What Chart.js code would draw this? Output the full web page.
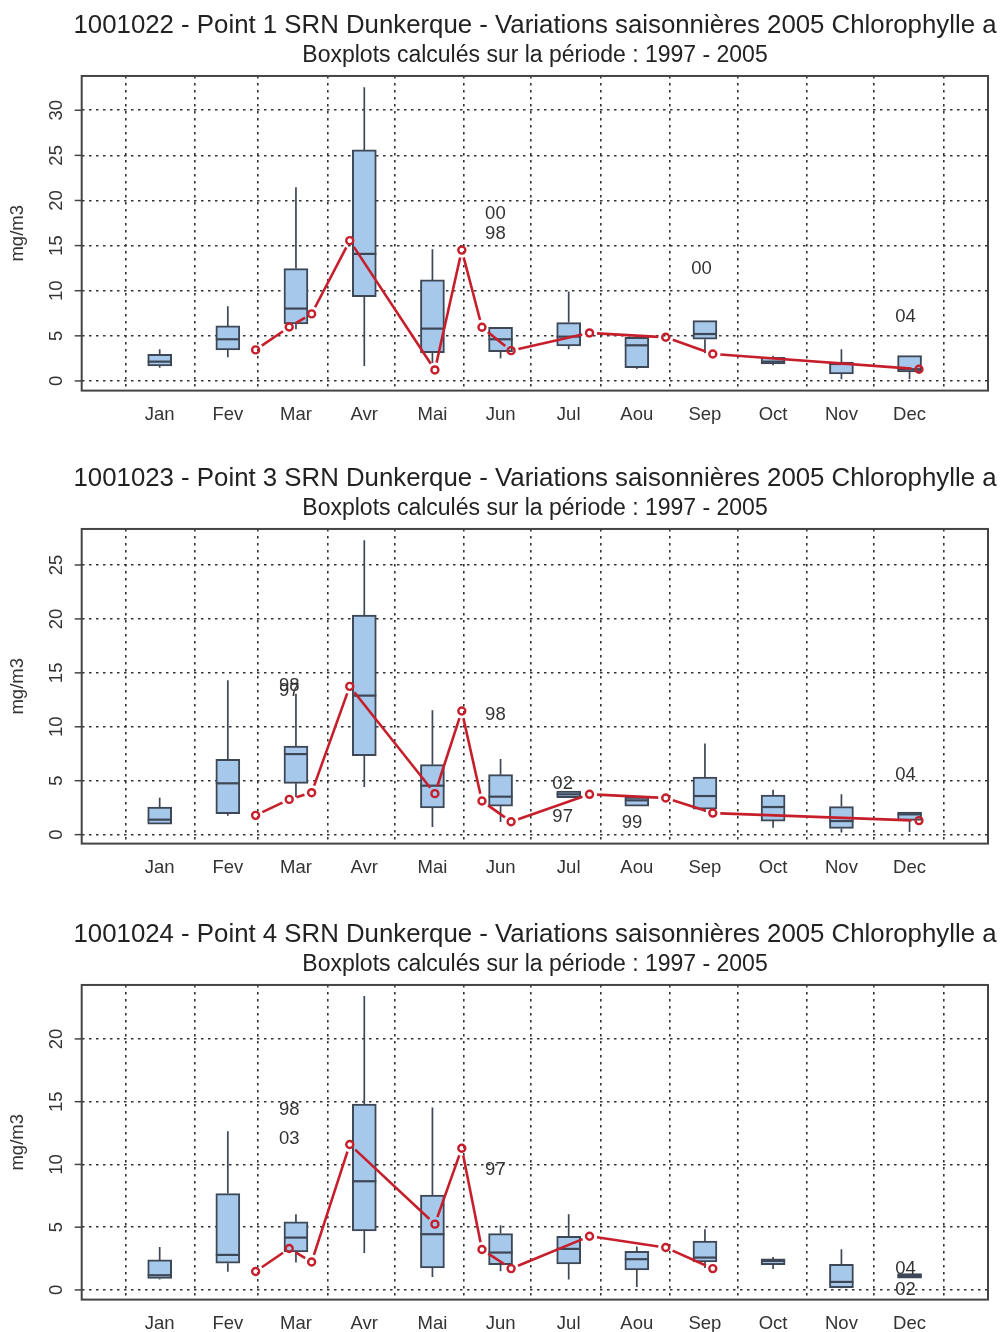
<!DOCTYPE html>
<html>
<head>
<meta charset="utf-8">
<script src="https://cdn.jsdelivr.net/npm/chart.js@4.4.1/dist/chart.umd.min.js"></script>
<style>
  body { margin: 0; background: #fff; }
  canvas { position: absolute; left: 0; }
</style>
</head>
<body>
<canvas id="c1" width="1002" height="453" style="top:0px"></canvas>
<canvas id="c2" width="1002" height="456" style="top:453px"></canvas>
<canvas id="c3" width="1002" height="423" style="top:909px"></canvas>
<script>
const FONT = '"Liberation Sans", Arial, Helvetica, sans-serif';
const BOX_FILL = '#A6C8EA';
const BOX_EDGE = '#3D4756';
const RED = '#C61F2B';
const INK = '#333';

/* ============ shared axes ============ */
const monthLabels = ["Jan", "Fev", "Mar", "Avr", "Mai", "Jun", "Jul", "Aou", "Sep", "Oct", "Nov", "Dec"];
const boxDays = [15.2, 45.6, 76.0, 106.5, 136.9, 167.3, 197.7, 228.1, 258.5, 288.9, 319.4, 349.8];
const monthStarts = [0, 31, 59, 90, 120, 151, 181, 212, 243, 273, 304, 334, 365];
const sampleDays = [58, 73, 83, 100, 138, 150, 159, 172, 207, 241, 262, 354];
const subtitle = "Boxplots calculés sur la période : 1997 - 2005";

/* ============ Point 1 ============ */
const title1 = "1001022 - Point 1 SRN Dunkerque - Variations saisonnières 2005 Chlorophylle a";
const yTicks1 = [0, 5, 10, 15, 20, 25, 30];
const lo1  = [1.47, 2.62, 5.73, 1.66, 2.0, 2.5, 3.5, 1.33, 3.07, 1.74, 0.19, 0.19];
const q1_1 = [1.66, 3.44, 6.32, 9.35, 3.14, 3.25, 3.88, 1.47, 4.62, 1.88, 0.78, 1.0];
const med1 = [2.14, 4.62, 8.02, 14.08, 5.8, 4.62, 4.91, 3.95, 5.2, 2.14, 1.88, 1.3];
const q3_1 = [2.96, 6.1, 12.45, 25.6, 11.2, 5.95, 6.47, 4.84, 6.68, 2.62, 2.1, 2.8];
const hi1  = [3.5, 8.28, 21.46, 32.55, 14.6, 5.95, 9.9, 4.84, 6.68, 2.8, 3.5, 2.8];
const obs1 = [3.44, 5.98, 7.43, 15.55, 1.22, 14.5, 5.95, 3.36, 5.32, 4.84, 2.99, 1.3];
const outDay1 = [165, 165, 257, 348];
const outVal1 = [18.47, 16.26, 12.38, 7.13];
const outTxt1 = ["00", "98", "00", "04"];

/* ============ Point 3 ============ */
const title2 = "1001023 - Point 3 SRN Dunkerque - Variations saisonnières 2005 Chlorophylle a";
const yTicks2 = [0, 5, 10, 15, 20, 25];
const lo2  = [0.98, 1.76, 3.49, 4.41, 0.71, 1.17, 3.43, 2.65, 2.1, 0.65, 0.21, 0.24];
const q1_2 = [0.98, 1.95, 4.76, 7.32, 2.47, 2.65, 3.43, 2.65, 2.37, 1.26, 0.58, 1.33];
const med2 = [1.39, 4.76, 7.47, 12.89, 4.54, 3.52, 3.74, 3.18, 3.58, 2.56, 1.26, 1.88];
const q3_2 = [2.56, 6.98, 8.22, 20.36, 6.49, 5.56, 4.04, 3.49, 5.34, 3.67, 2.6, 2.1];
const hi2  = [3.43, 14.31, 13.07, 27.29, 11.53, 7.01, 4.04, 3.6, 8.44, 4.17, 3.74, 2.1];
const obs2 = [1.79, 3.27, 3.89, 13.75, 3.8, 11.46, 3.12, 1.2, 3.74, 3.4, 2.0, 1.3];
const outDay2 = [73, 73, 165, 195, 195, 226, 348];
const outVal2 = [13.75, 13.29, 11.13, 4.73, 1.63, 1.11, 5.5];
const outTxt2 = ["98", "97", "98", "02", "97", "99", "04"];

/* ============ Point 4 ============ */
const title3 = "1001024 - Point 4 SRN Dunkerque - Variations saisonnières 2005 Chlorophylle a";
const yTicks3 = [0, 5, 10, 15, 20];
const lo3  = [0.83, 1.44, 2.18, 2.95, 1.04, 1.49, 0.83, 0.24, 1.75, 1.67, 0.13, 0.93];
const q1_3 = [0.91, 2.13, 3.03, 4.7, 1.75, 2.02, 2.07, 1.59, 2.23, 2.02, 0.19, 0.93];
const med3 = [1.17, 2.79, 4.17, 8.66, 4.44, 2.98, 3.27, 2.45, 2.58, 2.31, 0.64, 1.12];
const q3_3 = [2.39, 7.68, 5.42, 14.8, 7.55, 4.49, 4.28, 3.08, 3.9, 2.47, 2.05, 1.31];
const hi3  = [3.43, 12.65, 6.03, 23.43, 14.53, 5.16, 6.03, 3.46, 4.84, 2.63, 3.24, 1.31];
const obs3 = [1.47, 3.3, 2.23, 11.59, 5.24, 11.29, 3.22, 1.7, 4.28, 3.38, 1.7];
const outDay3 = [73, 73, 165, 348, 348];
const outVal3 = [14.32, 12.06, 9.54, 1.7, 0.03];
const outTxt3 = ["98", "03", "97", "04", "02"];

const GAP = 7.5;
const dotted = { color: '#333', width: 1.6, dash: [2.5, 4.5] };

function decorPlugin(p) {
  return {
    id: 'decor',
    afterDatasetDraw(chart, args) {
      if (args.index !== 0) return;
      const { ctx, scales: { x, y } } = chart;
      ctx.save();
      ctx.strokeStyle = BOX_EDGE;
      ctx.lineWidth = 1.7;
      boxDays.forEach((d, i) => {
        const px = x.getPixelForValue(d);
        ctx.beginPath();
        ctx.moveTo(px, y.getPixelForValue(p.q3[i]));
        ctx.lineTo(px, y.getPixelForValue(p.hi[i]));
        ctx.moveTo(px, y.getPixelForValue(p.q1[i]));
        ctx.lineTo(px, y.getPixelForValue(p.lo[i]));
        ctx.stroke();
      });
      ctx.lineWidth = 2.2;
      boxDays.forEach((d, i) => {
        const px = x.getPixelForValue(d), py = y.getPixelForValue(p.med[i]);
        ctx.beginPath();
        ctx.moveTo(px - 12, py);
        ctx.lineTo(px + 12, py);
        ctx.stroke();
      });
      ctx.restore();
    },
    afterDraw(chart) {
      const { ctx, chartArea: a, scales: { x, y } } = chart;
      ctx.save();
      // frame
      ctx.strokeStyle = '#444';
      ctx.lineWidth = 2;
      ctx.strokeRect(a.left, a.top, a.right - a.left, a.bottom - a.top);
      // y ticks + labels
      ctx.lineWidth = 1.5;
      ctx.fillStyle = INK;
      ctx.font = '18.5px ' + FONT;
      ctx.textAlign = 'center';
      ctx.textBaseline = 'middle';
      p.yTicks.forEach(v => {
        const py = y.getPixelForValue(v);
        ctx.beginPath();
        ctx.moveTo(a.left - 7, py);
        ctx.lineTo(a.left, py);
        ctx.stroke();
        ctx.save();
        ctx.translate(a.left - 25, py);
        ctx.rotate(-Math.PI / 2);
        ctx.fillText(String(v), 0, 0);
        ctx.restore();
      });
      ctx.save();
      ctx.translate(a.left - 64, (a.top + a.bottom) / 2);
      ctx.rotate(-Math.PI / 2);
      ctx.fillText('mg/m3', 0, 0);
      ctx.restore();
      // month labels
      monthLabels.forEach((m, i) => {
        ctx.fillText(m, x.getPixelForValue(boxDays[i]), a.bottom + 24);
      });
      // outlier year labels
      p.outTxt.forEach((t, i) => {
        ctx.fillText(t, x.getPixelForValue(p.outDay[i]), y.getPixelForValue(p.outVal[i]));
      });
      ctx.restore();
    }
  };
}

function makePanel(id, p) {
  const canvas = document.getElementById(id);
  const H = canvas.height;
  new Chart(canvas, {
    type: 'bar',
    data: {
      datasets: [{
        type: 'bar',
        data: boxDays.map((d, i) => ({ x: d, y: [p.q1[i], p.q3[i]] })),
        backgroundColor: BOX_FILL,
        borderColor: BOX_EDGE,
        borderWidth: 2,
        borderSkipped: false,
        barThickness: 24,
        order: 2
      }, {
        type: 'line',
        data: p.obs.map((v, i) => ({ x: sampleDays[i], y: v })),
        borderColor: RED,
        borderWidth: 2.6,
        tension: 0,
        pointRadius: 3.5,
        pointBorderWidth: 2.4,
        pointBorderColor: RED,
        pointBackgroundColor: 'rgba(0,0,0,0)',
        segment: {
          borderDash: c => {
            const L = Math.hypot(c.p1.x - c.p0.x, c.p1.y - c.p0.y);
            return [0, GAP, Math.max(L - 2 * GAP, 0), GAP + 1];
          }
        },
        order: 1
      }]
    },
    options: {
      responsive: false,
      animation: false,
      layout: { padding: { left: 68, right: 0, top: 0, bottom: H - 390.6 } },
      plugins: {
        legend: { display: false },
        tooltip: { enabled: false },
        title: {
          display: true, text: p.title, color: '#222',
          font: { family: FONT, size: 25.8, weight: 'normal' },
          padding: { top: 10.5, bottom: 0 }
        },
        subtitle: {
          display: true, text: subtitle, color: '#222',
          font: { family: FONT, size: 23, weight: 'normal' },
          padding: { top: 0.7, bottom: 6.2 }
        }
      },
      scales: {
        x: {
          type: 'linear', min: -19.6, max: 384.8, offset: false,
          afterBuildTicks: s => { s.ticks = monthStarts.map(v => ({ value: v })); },
          ticks: { display: false },
          grid: { offset: false, color: dotted.color, lineWidth: dotted.width, drawTicks: false },
          border: { display: false, dash: dotted.dash }
        },
        y: {
          min: p.yMin, max: p.yMax,
          afterBuildTicks: s => { s.ticks = p.yTicks.map(v => ({ value: v })); },
          afterFit: s => { s.width = 13.7; },
          ticks: { display: false },
          grid: { color: dotted.color, lineWidth: dotted.width, drawTicks: false },
          border: { display: false, dash: dotted.dash }
        },
        yR: {
          position: 'right', display: true,
          afterFit: s => { s.width = 14; },
          ticks: { display: false },
          grid: { display: false, drawTicks: false },
          border: { display: false }
        }
      }
    },
    plugins: [decorPlugin(p)]
  });
}

makePanel('c1', { title: title1, yMin: -1.07, yMax: 33.8, yTicks: yTicks1,
  lo: lo1, q1: q1_1, med: med1, q3: q3_1, hi: hi1, obs: obs1,
  outDay: outDay1, outVal: outVal1, outTxt: outTxt1 });
makePanel('c2', { title: title2, yMin: -0.83, yMax: 28.34, yTicks: yTicks2,
  lo: lo2, q1: q1_2, med: med2, q3: q3_2, hi: hi2, obs: obs2,
  outDay: outDay2, outVal: outVal2, outTxt: outTxt2 });
makePanel('c3', { title: title3, yMin: -0.77, yMax: 24.3, yTicks: yTicks3,
  lo: lo3, q1: q1_3, med: med3, q3: q3_3, hi: hi3, obs: obs3,
  outDay: outDay3, outVal: outVal3, outTxt: outTxt3 });
</script>
</body>
</html>
